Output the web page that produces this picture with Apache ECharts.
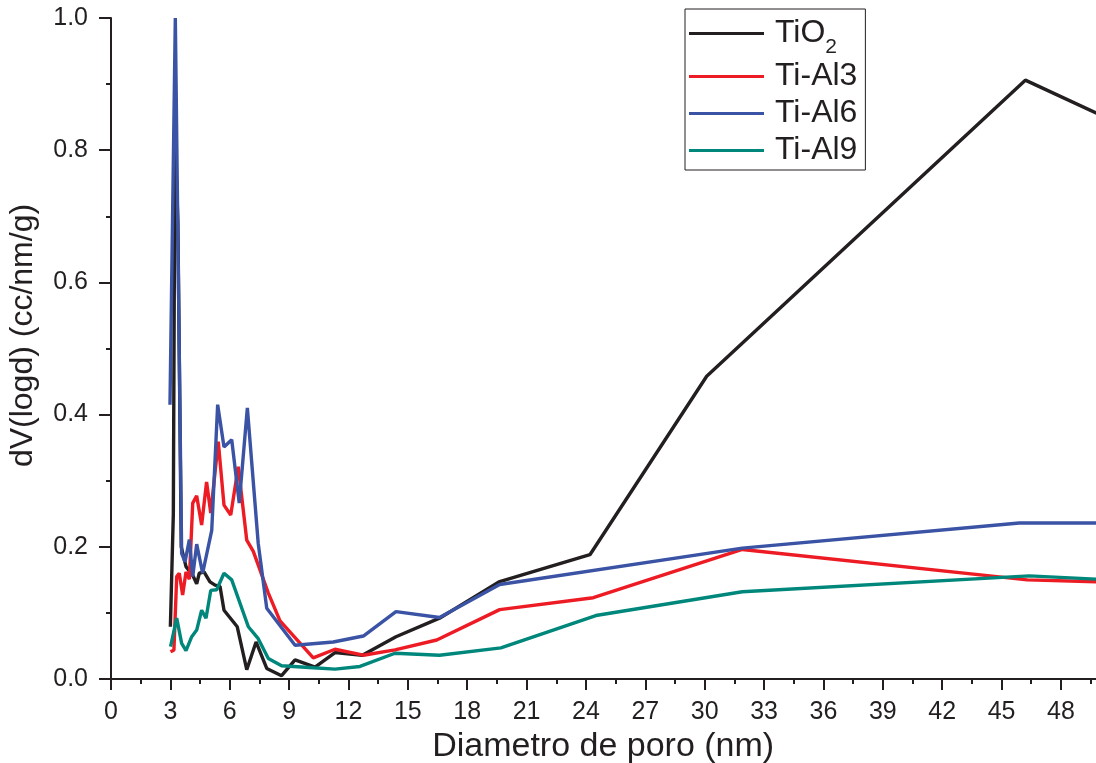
<!DOCTYPE html>
<html>
<head>
<meta charset="utf-8">
<script src="https://cdn.jsdelivr.net/npm/echarts@6/dist/echarts.min.js"></script>
<style>
  html, body { margin: 0; padding: 0; background: #ffffff; overflow: hidden; }
  #chart { width: 1096px; height: 763px; }
</style>
</head>
<body>
<div id="chart"></div>
<script>
// Pore size distribution (BJH) — dV(logd) vs pore diameter
const seriesNames = ['TiO2', 'Ti-Al3', 'Ti-Al6', 'Ti-Al9'];

const tio2X = [3.0, 3.15, 3.23, 3.38, 3.55, 3.79, 4.13, 4.33, 4.46, 4.70, 5.0, 5.26, 5.51, 5.71, 6.38, 6.86, 7.33, 7.87, 8.62, 9.30, 10.31, 11.32, 12.7, 14.4, 16.6, 19.6, 24.2, 30.1, 46.2, 49.8];
const tio2Y = [0.079, 0.25, 0.826, 0.69, 0.20, 0.170, 0.157, 0.144, 0.160, 0.162, 0.147, 0.142, 0.140, 0.104, 0.079, 0.014, 0.056, 0.016, 0.005, 0.029, 0.018, 0.040, 0.036, 0.064, 0.092, 0.147, 0.188, 0.458, 0.906, 0.856];

const al3X = [3.01, 3.18, 3.32, 3.45, 3.62, 3.79, 3.96, 4.13, 4.33, 4.58, 4.83, 5.04, 5.42, 5.71, 6.05, 6.43, 6.86, 7.19, 7.95, 8.54, 10.22, 11.32, 12.75, 14.35, 16.46, 19.64, 24.37, 31.9, 46.3, 49.8];
const al3Y = [0.041, 0.044, 0.155, 0.160, 0.127, 0.162, 0.151, 0.266, 0.277, 0.233, 0.298, 0.251, 0.359, 0.263, 0.248, 0.321, 0.210, 0.193, 0.130, 0.088, 0.032, 0.045, 0.036, 0.044, 0.059, 0.105, 0.123, 0.196, 0.150, 0.147];

const al6X = [2.98, 3.25, 3.57, 3.74, 3.96, 4.13, 4.33, 4.63, 5.09, 5.39, 5.71, 6.10, 6.48, 6.89, 7.44, 7.87, 9.30, 11.23, 12.75, 14.4, 16.6, 19.64, 31.9, 45.9, 49.8];
const al6Y = [0.415, 1.0, 0.19, 0.177, 0.211, 0.155, 0.204, 0.160, 0.225, 0.415, 0.351, 0.362, 0.266, 0.41, 0.205, 0.107, 0.051, 0.056, 0.065, 0.102, 0.093, 0.143, 0.198, 0.236, 0.236];

const al9X = [3.01, 3.32, 3.57, 3.79, 4.08, 4.33, 4.58, 4.80, 5.04, 5.34, 5.71, 6.10, 6.94, 7.44, 7.95, 8.62, 10.22, 11.32, 12.58, 14.35, 16.6, 19.7, 24.5, 31.9, 46.4, 49.8];
const al9Y = [0.049, 0.092, 0.054, 0.043, 0.064, 0.074, 0.104, 0.092, 0.134, 0.135, 0.160, 0.150, 0.079, 0.061, 0.031, 0.020, 0.017, 0.015, 0.019, 0.039, 0.036, 0.047, 0.096, 0.132, 0.156, 0.151];

const seriesColors = ['#231f20', '#ed1c24', '#3a53a4', '#00877c'];

const xTitle = 'Diametro de poro (nm)';
const yTitle = 'dV(logd) (cc/nm/g)';

const ink = '#231f20';
const font = '"Liberation Sans", Arial, sans-serif';

function pairs(xs, ys) {
  return xs.map((x, i) => [x, ys[i]]);
}

const allX = [tio2X, al3X, al6X, al9X];
const allY = [tio2Y, al3Y, al6Y, al9Y];

const chart = echarts.init(document.getElementById('chart'), null, { renderer: 'canvas', width: 1096, height: 763 });

// The x axis runs on past the right edge of the canvas (axis max 51)
chart.setOption({
  animation: false,
  backgroundColor: '#ffffff',
  textStyle: { fontFamily: font, color: ink },
  grid: {
    left: 111, top: 18, width: 1009.3, height: 661,
    containLabel: false,
    outerBoundsMode: 'none'
  },
  legend: {
    orient: 'vertical',
    left: 685,
    top: 9,
    padding: [0, 8, 1, 4],
    itemGap: 0,
    itemWidth: 75,
    itemHeight: 3,
    icon: 'rect',
    borderColor: ink,
    borderWidth: 1,
    data: seriesNames,
    formatter: function (name) {
      return name === 'TiO2' ? 'TiO{sub|2}' : name;
    },
    textStyle: {
      fontFamily: font,
      fontSize: 32,
      lineHeight: 37,
      color: ink,
      padding: [0, 0, 0, 6],
      rich: {
        sub: { fontFamily: font, fontSize: 21, lineHeight: 49, color: ink, verticalAlign: 'bottom' }
      }
    }
  },
  xAxis: {
    type: 'value',
    min: 0,
    max: 51,
    interval: 3,
    name: xTitle,
    nameLocation: 'middle',
    nameGap: 46,
    nameTextStyle: { fontFamily: font, fontSize: 34, color: ink, padding: [0, 25, 0, 0] },
    axisLine: { show: true, lineStyle: { color: ink, width: 2 } },
    axisTick: { show: true, inside: false, length: 11, lineStyle: { color: ink, width: 2 } },
    minorTick: { show: true, splitNumber: 2, length: 5, lineStyle: { color: ink, width: 2 } },
    splitLine: { show: false },
    axisLabel: {
      margin: 21,
      fontFamily: font,
      fontSize: 25,
      color: ink,
      formatter: function (v) { return v > 48 ? '' : String(v); }
    }
  },
  yAxis: {
    type: 'value',
    min: 0,
    max: 1.0,
    interval: 0.2,
    name: yTitle,
    nameLocation: 'middle',
    nameRotate: 90,
    nameGap: 72,
    nameTextStyle: { fontFamily: font, fontSize: 32, color: ink, padding: [0, 0, 0, 26] },
    axisLine: { show: true, lineStyle: { color: ink, width: 2 } },
    axisTick: { show: true, inside: false, length: 12, lineStyle: { color: ink, width: 2 } },
    minorTick: { show: true, splitNumber: 2, length: 5, lineStyle: { color: ink, width: 2 } },
    splitLine: { show: false },
    axisLabel: {
      margin: 23,
      fontFamily: font,
      fontSize: 25,
      color: ink,
      formatter: function (v) { return v.toFixed(1); }
    }
  },
  series: seriesNames.map((name, i) => ({
    name: name,
    type: 'line',
    data: pairs(allX[i], allY[i]),
    showSymbol: false,
    symbol: 'none',
    clip: true,
    color: seriesColors[i],
    lineStyle: { color: seriesColors[i], width: 3.4 },
    z: 2 + i
  }))
});
</script>
</body>
</html>
